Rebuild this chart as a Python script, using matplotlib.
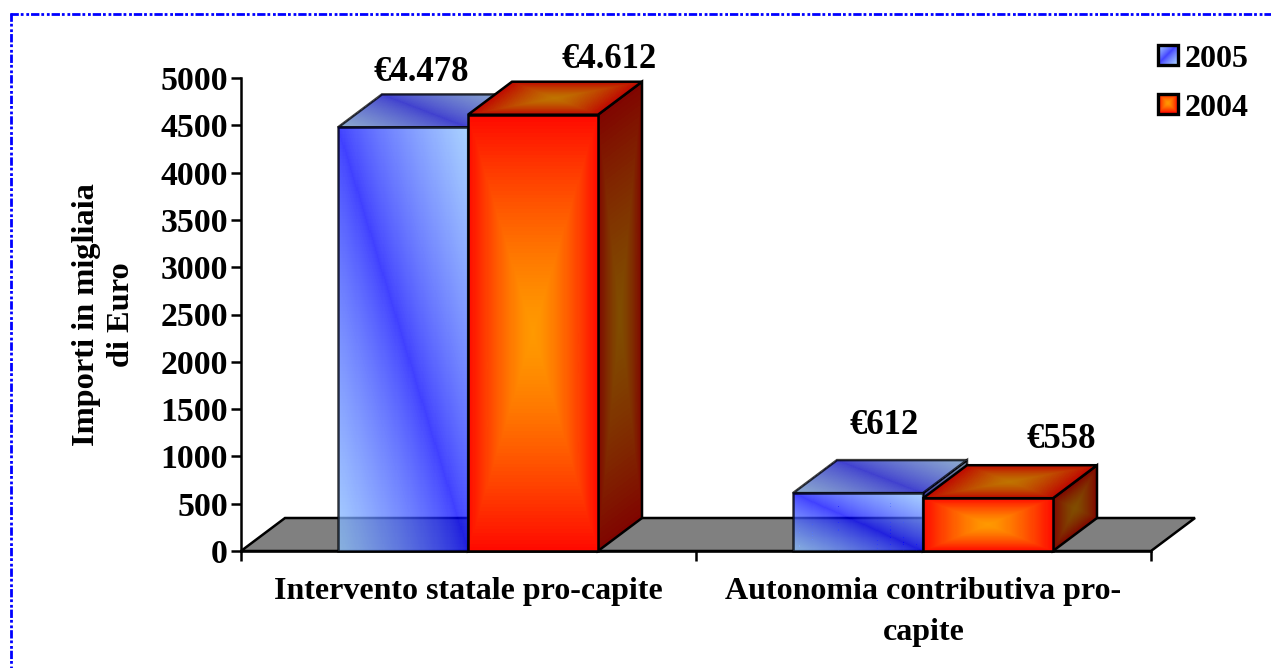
import matplotlib
matplotlib.use('Agg')
import matplotlib.pyplot as plt
import numpy as np
from matplotlib.lines import Line2D
from matplotlib.patches import Polygon, Rectangle

categories = ['Intervento statale pro-capite', 'Autonomia contributiva pro-\ncapite']
values_2005 = [4478, 612]
values_2004 = [4612, 558]
labels_2005 = ['€4.478', '€612']
labels_2004 = ['€4.612', '€558']
yticks = [0, 500, 1000, 1500, 2000, 2500, 3000, 3500, 4000, 4500, 5000]

W, H = 1271, 668
SERIF = 'Liberation Serif'
BAR = 130 / 455.0
GAP = 97 / 455.0
DX = 44 / 455.0
DY = 33 / 473.0 * 5000
LW = 1.8


def blue_grad(n, dark=1.0, opaque=False):
    u, v = np.meshgrid(np.linspace(0, 1, n), np.linspace(0, 1, n))
    d = np.abs(u - (1 - v))[:, :, None] ** 0.8
    core = np.array([0, 0, 1.0]) * dark
    light = np.array([141, 195, 255]) / 255.0 * dark
    rgb = core + (light - core) * d
    if opaque:
        # same colour as 75% over white, avoids seams on slanted faces
        return np.dstack([rgb * 0.75 + 0.25, np.ones((n, n))])
    return np.dstack([rgb, np.full((n, n), 0.75)])


def red_grad(n, dark=1.0, opaque=True):
    u, v = np.meshgrid(np.linspace(-1, 1, n), np.linspace(-1, 1, n))
    d = np.maximum(np.abs(u), np.abs(v))[:, :, None] ** 1.4
    core = np.array([255, 153, 0]) / 255.0 * dark
    edge = np.array([255, 10, 0]) / 255.0 * dark
    rgb = core + (edge - core) * d
    return np.dstack([rgb, np.ones((n, n))])


def face(ax, p0, p1, p2, p3, colors, z, edge_alpha=1.0):
    # p0 bottom left, p1 bottom right, p2 top right, p3 top left
    n = colors.shape[0]
    s, t = np.meshgrid(np.linspace(0, 1, n + 1), np.linspace(0, 1, n + 1))
    p0, p1, p2, p3 = [np.array(p) for p in (p0, p1, p2, p3)]
    X = (1 - t) * ((1 - s) * p0[0] + s * p1[0]) + t * ((1 - s) * p3[0] + s * p2[0])
    Y = (1 - t) * ((1 - s) * p0[1] + s * p1[1]) + t * ((1 - s) * p3[1] + s * p2[1])
    m = ax.pcolormesh(X, Y, colors, shading='flat', zorder=z, antialiased=False)
    m.set_clip_on(False)
    ax.add_patch(Polygon([p0, p1, p2, p3], closed=True, fill=False, lw=LW,
                         edgecolor=(0, 0, 0, edge_alpha), zorder=z + 0.1,
                         clip_on=False, joinstyle='miter'))


def box(ax, x, val, grad, z, edge_alpha=1.0):
    x2 = x + BAR
    face(ax, (x2, 0), (x2 + DX, DY), (x2 + DX, val + DY), (x2, val),
         grad(80, 0.5, True), z, edge_alpha)
    face(ax, (x, val), (x2, val), (x2 + DX, val + DY), (x + DX, val + DY),
         grad(80, 0.75, True), z + 0.2, edge_alpha)
    face(ax, (x, 0), (x2, 0), (x2, val), (x, val),
         grad(120), z + 0.4, edge_alpha)


def bar_label(ax, x, val, text, ox, oy):
    ax.annotate(text, (x + BAR / 2.0 + DX / 2.0, val + DY), xytext=(ox * 0.72, oy * 0.72),
                textcoords='offset points', ha='center', va='center',
                family=SERIF, weight='bold', fontsize=25, color='black',
                annotation_clip=False, zorder=20)


def main():
    fig = plt.figure(figsize=(W / 100.0, H / 100.0), dpi=100)
    ax = fig.add_axes([241.0 / W, (H - 551.0) / H, 910.0 / W, 473.0 / H])
    ax.set_xlim(0, 2)
    ax.set_ylim(0, 5000)
    ax.spines['top'].set_visible(False)
    ax.spines['right'].set_visible(False)
    ax.spines['left'].set_linewidth(LW)
    ax.spines['bottom'].set_linewidth(LW)

    ax.add_patch(Polygon([(0, 0), (DX, DY), (2 + DX, DY), (2, 0)], closed=True,
                         facecolor='#808080', edgecolor='black', lw=LW,
                         zorder=1, clip_on=False))

    offs_2005 = [(-4, 22), (4, 35)]
    offs_2004 = [(54, 22), (51, 26)]
    for i in range(len(categories)):
        x1 = i + GAP
        x2 = x1 + BAR
        box(ax, x1, values_2005[i], blue_grad, 3, 0.75)
        box(ax, x2, values_2004[i], red_grad, 5)
        bar_label(ax, x1, values_2005[i], labels_2005[i], *offs_2005[i])
        bar_label(ax, x2, values_2004[i], labels_2004[i], *offs_2004[i])

    ax.set_yticks(yticks)
    ax.set_yticklabels([str(t) for t in yticks], family=SERIF, weight='bold', fontsize=24.3)
    ax.set_xticks([0, 1, 2])
    ax.set_xticklabels([])
    ax.tick_params(axis='both', length=7.5, width=LW, pad=2)

    for i, c in enumerate(categories):
        ax.annotate(c, (i + 0.5, 0), xytext=(0, -19), textcoords='offset points',
                    ha='center', va='top', family=SERIF, weight='bold', fontsize=23,
                    linespacing=1.52, annotation_clip=False)

    fig.text(104.0 / W, 1 - 315.0 / H, 'Importi in migliaia\ndi Euro', rotation=90,
             ha='center', va='center', family=SERIF, weight='bold', fontsize=23.3,
             linespacing=1.3, multialignment='center')

    # legend
    lax = fig.add_axes([0, 0, 1, 1], facecolor='none')
    lax.axis('off')
    for y, txt, grad in [(54.5, '2005', blue_grad), (103.5, '2004', red_grad)]:
        lax.imshow(grad(40), extent=(1158, 1178, y + 10, y - 10), zorder=2,
                   interpolation='bilinear', aspect='auto')
        lax.add_patch(Rectangle((1158, y - 10), 20, 20, fill=False, edgecolor='black',
                                lw=2.4, zorder=3))
        lax.text(1185, y + 5, txt, ha='left', va='center', family=SERIF, weight='bold',
                 fontsize=23)
    lax.set_xlim(0, W)
    lax.set_ylim(H, 0)

    # dash-dot border, top and left only
    style = (0, (3, 0.7, 1, 1, 1, 0.7))
    fig.add_artist(Line2D([10.0 / W, 1], [1 - 13.5 / H, 1 - 13.5 / H], color='#0000ff',
                          lw=2.0, linestyle=style))
    fig.add_artist(Line2D([11.0 / W, 11.0 / W], [1 - 13.0 / H, 0], color='#0000ff',
                          lw=2.0, linestyle=style))

    fig.savefig('out.png', dpi=100)


if __name__ == "__main__":
    main()
